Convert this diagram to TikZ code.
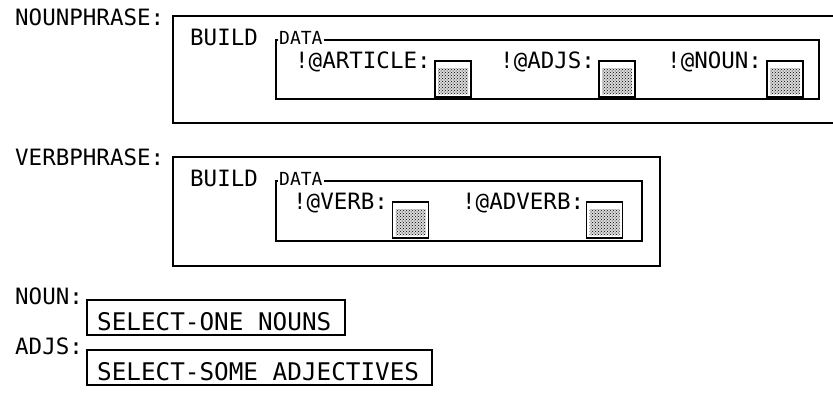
\documentclass[tikz,border=0pt]{standalone}
\usepackage{fontspec}
\setmonofont{DejaVu Sans Mono}
\usetikzlibrary{patterns}
\begin{document}
\begin{tikzpicture}[x=1pt,y=-1pt,
  lbl/.style={font=\fontsize{22.5}{24}\selectfont\ttfamily, inner sep=0pt, anchor=base west},
  sel/.style={font=\fontsize{24.3}{26}\selectfont\ttfamily, inner sep=0pt, anchor=base west},
  tag/.style={font=\fontsize{18}{19}\selectfont\ttfamily, inner sep=1pt, fill=white, anchor=west},
  frame/.style={draw, line width=1.4pt},
  slot/.style={draw, line width=1.4pt, minimum width=36pt, minimum height=36pt, inner sep=0pt,
    path picture={\fill[black!15]
      ([shift={(3pt,-7pt)}]path picture bounding box.north west) rectangle
      ([shift={(-3pt,3pt)}]path picture bounding box.south east);
      \fill[pattern=crosshatch dots]
      ([shift={(3pt,-7pt)}]path picture bounding box.north west) rectangle
      ([shift={(-3pt,3pt)}]path picture bounding box.south east);}}]
\useasboundingbox (0,0) rectangle (833,407);
\clip (0,0) rectangle (833,407);

% NOUNPHRASE
\node[lbl] (np) at (15,25) {NOUNPHRASE:};
\draw[frame] (173,16) rectangle (850,123);
\node[lbl] (b1) at (190,45) {BUILD};
\draw[frame] (276,40) rectangle (819,99);
\node[tag] (d1) at (278,38) {DATA};
\node[lbl] (a1) at (295,68) {!@ARTICLE:};
\node[slot] (s1) at (453,79) {};
\node[lbl] (a2) at (500,68) {!@ADJS:};
\node[slot] (s2) at (617,79) {};
\node[lbl] (a3) at (667,68) {!@NOUN:};
\node[slot] (s3) at (785,79) {};

% VERBPHRASE
\node[lbl] (vp) at (15,165) {VERBPHRASE:};
\draw[frame] (173,157) rectangle (660,266);
\node[lbl] (b2) at (190,186) {BUILD};
\draw[frame] (276,181) rectangle (642,241);
\node[tag] (d2) at (278,179) {DATA};
\node[lbl] (v1) at (293,209) {!@VERB:};
\node[slot] (s4) at (410.5,220) {};
\node[lbl] (v2) at (462,209) {!@ADVERB:};
\node[slot] (s5) at (604.5,220) {};

% NOUN
\node[lbl] (n) at (15,304) {NOUN:};
\draw[frame] (87,300) rectangle (345,335);
\node[sel] (sn) at (97,330) {SELECT-ONE NOUNS};

% ADJS
\node[lbl] (j) at (15,354) {ADJS:};
\draw[frame] (87,350) rectangle (432,385);
\node[sel] (sj) at (97,380) {SELECT-SOME ADJECTIVES};
\end{tikzpicture}
\end{document}
